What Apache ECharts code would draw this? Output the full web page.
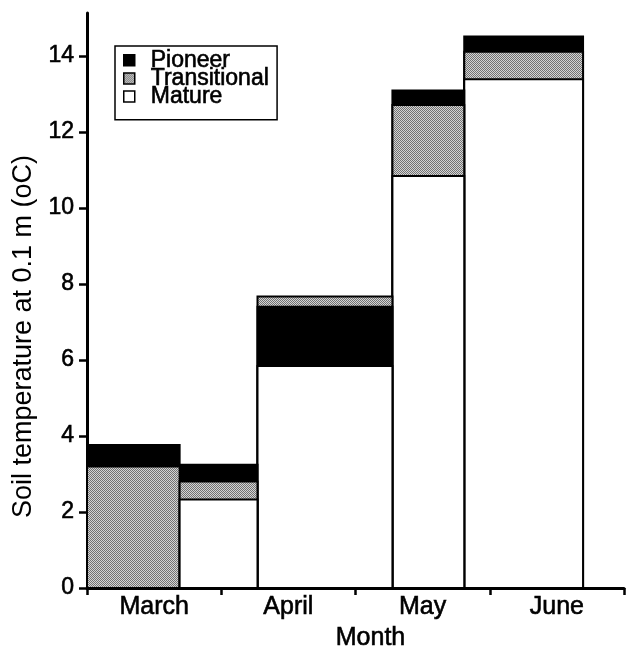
<!DOCTYPE html>
<html><head><meta charset="utf-8">
<script src="https://cdn.jsdelivr.net/npm/echarts@6/dist/echarts.min.js"></script>
<style>html,body{margin:0;padding:0;background:#fff}#c{width:627px;height:647px}</style>
</head><body><div id="c"></div>
<script>
// ---- data ----
const months = ['March', 'April', 'May', 'June'];
const seriesNames = ['Pioneer', 'Transitional', 'Mature'];
// sampling periods, in months since 1 March
const periodStart = [0, 0.69, 1.27, 2.275, 2.81];
const periodEnd = [0.69, 1.27, 2.275, 2.81, 3.695];
const pioneer = [3.76, 3.24, 7.40, 13.09, 14.51];
const transitional = [3.20, 2.80, 7.67, 12.71, 14.11];
const mature = [null, 2.33, 5.84, 10.84, 13.39];
const yTicks = [0, 2, 4, 6, 8, 10, 12, 14];

// ---- styling helpers ----
const FONT = "'Liberation Sans', Arial, Helvetica, sans-serif";
function greyPattern() {
  const c = document.createElement('canvas');
  c.width = 2; c.height = 2;
  const g = c.getContext('2d');
  g.fillStyle = '#d4d4d4'; g.fillRect(0, 0, 2, 2);
  g.fillStyle = '#727272'; g.fillRect(0, 0, 1, 1); g.fillRect(1, 1, 1, 1);
  return { image: c, repeat: 'repeat' };
}
const fills = { Pioneer: '#000000', Transitional: greyPattern(), Mature: '#ffffff' };
const values = { Pioneer: pioneer, Transitional: transitional, Mature: mature };
const boldish = { textBorderColor: '#000', textBorderWidth: 0.6 };

function renderItem(params, api) {
  const v = api.value(2);
  if (v == null || isNaN(v)) return;
  const p0 = api.coord([api.value(0), 0]);
  const p1 = api.coord([api.value(1), v]);
  return {
    type: 'rect',
    shape: { x: p0[0], y: p1[1], width: p1[0] - p0[0], height: p0[1] - p1[1] },
    style: api.style({ stroke: '#000', lineWidth: 2 }),
    z2: Math.round(-v * 100)
  };
}

const series = seriesNames.map(name => ({
  name: name,
  type: 'custom',
  xAxisIndex: 0,
  yAxisIndex: 0,
  renderItem: renderItem,
  itemStyle: { color: fills[name], borderColor: '#000', borderWidth: 1.5 },
  encode: { x: [0, 1], y: 2 },
  data: values[name].map((v, i) => [periodStart[i], periodEnd[i], v])
}));

const chart = echarts.init(document.getElementById('c'), null, { renderer: 'canvas' });
chart.setOption({
  animation: false,
  backgroundColor: '#fff',
  textStyle: { fontFamily: FONT, color: '#000' },
  grid: { left: 87, right: 3, top: 13, bottom: 59, containLabel: false, outerBoundsMode: 'none' },
  legend: {
    orient: 'vertical', left: 115, top: 46,
    data: seriesNames, icon: 'rect', itemWidth: 11, itemHeight: 11, itemGap: -5.5,
    padding: [2.5, 8, 11.5, 8], borderColor: '#000', borderWidth: 1.5,
    itemStyle: { borderColor: '#000', borderWidth: 1.5 },
    textStyle: Object.assign({ fontFamily: FONT, fontSize: 23, color: '#000', padding: [0, 0, 0, 11] }, boldish)
  },
  xAxis: [{
    type: 'value', position: 'bottom', min: 0, max: 4, interval: 1,
    axisLine: { show: true, lineStyle: { color: '#000', width: 3 } },
    axisTick: { show: true, inside: false, length: 7, lineStyle: { color: '#000', width: 2.5 } },
    axisLabel: { show: false },
    splitLine: { show: false },
    name: 'Month', nameLocation: 'middle', nameGap: 38,
    nameTextStyle: Object.assign({ fontFamily: FONT, fontSize: 25, color: '#000', padding: [0, 0, 0, 30] }, boldish)
  }, {
    type: 'category', position: 'bottom', data: months, boundaryGap: true,
    axisLine: { show: false }, axisTick: { show: false }, splitLine: { show: false },
    axisLabel: Object.assign({ fontFamily: FONT, fontSize: 25, color: '#000', margin: 7 }, boldish)
  }],
  yAxis: {
    type: 'value', min: 0, max: 15.13, interval: 2,
    axisLine: { show: true, lineStyle: { color: '#000', width: 3 } },
    axisTick: { show: true, length: 8, lineStyle: { color: '#000', width: 2.5 }, customValues: yTicks },
    axisLabel: Object.assign({ fontFamily: FONT, fontSize: 23, color: '#000', margin: 13, customValues: yTicks }, boldish),
    splitLine: { show: false },
    name: 'Soil temperature at 0.1 m (oC)', nameLocation: 'middle', nameGap: 40,
    nameTextStyle: { fontFamily: FONT, fontSize: 27, color: '#000', padding: [0, 72, 0, 0] }
  },
  series: series
});
</script></body></html>
